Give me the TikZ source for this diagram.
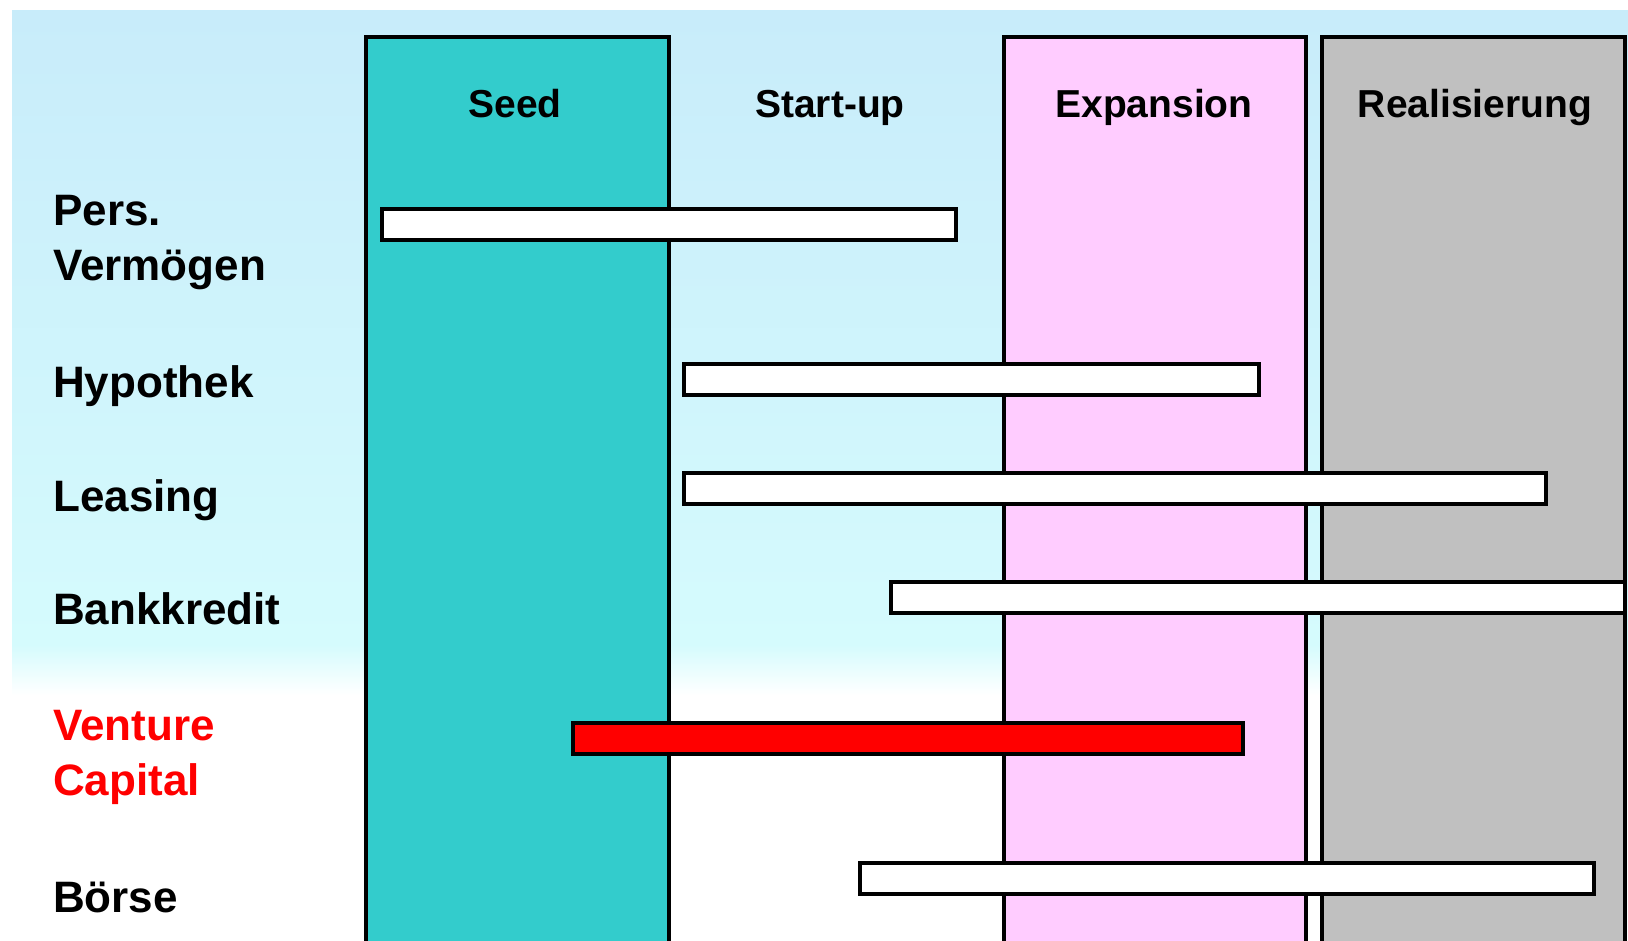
\documentclass[tikz,border=0pt]{standalone}
\usepackage{fontspec}
\setmainfont{Liberation Sans}
\definecolor{seedc}{HTML}{33CCCC}
\definecolor{expc}{HTML}{FFCCFF}
\definecolor{realc}{HTML}{C0C0C0}
\definecolor{bgtop}{HTML}{C8ECFA}
\definecolor{bgmid}{HTML}{D5FBFD}
\definecolor{vcred}{HTML}{FF0000}
\begin{document}
\begin{tikzpicture}[x=1pt,y=-1pt,
  col/.style={draw=black,line width=3.4pt,anchor=north west,minimum height=930pt,inner sep=0pt,outer sep=0pt},
  bar/.style={draw=black,line width=3.6pt,fill=white,anchor=north west,minimum height=31pt,inner sep=0pt,outer sep=0pt},
  head/.style={font=\fontsize{39}{44}\selectfont\bfseries,anchor=base,inner sep=0pt},
  lab/.style={font=\fontsize{44}{54.5}\selectfont\bfseries,anchor=base west,align=left,inner sep=0pt}]
\useasboundingbox (0,0) rectangle (1628,940);
\clip (0,0) rectangle (1628,940);
\fill[white] (0,0) rectangle (1628,940);
\shade[top color=bgtop,bottom color=bgmid] (12,10) rectangle (1628,645);
\shade[top color=bgmid,bottom color=white] (12,645) rectangle (1628,695);
% phase columns
\node[col,fill=seedc,minimum width=303pt] (seed) at (366,37) {};
\node[col,fill=expc,minimum width=302pt] (exp) at (1004,37) {};
\node[col,fill=realc,minimum width=303pt] (real) at (1322,37) {};
% headers
\node[head] (hseed) at (515,117) {Seed};
\node[head] (hstart) at (830,117) {Start-up};
\node[head] (hexp) at (1154,117) {Expansion};
\node[head] (hreal) at (1475,117) {Realisierung};
% row labels (anchor = baseline of last line)
\node[lab] (lpv) at (53,280) {Pers.\\Vermögen};
\node[lab] (lhyp) at (53,397) {Hypothek};
\node[lab] (lleas) at (53,511) {Leasing};
\node[lab] (lbank) at (53,624) {Bankkredit};
\node[lab,text=vcred] (lvc) at (53,795) {Venture\\Capital};
\node[lab] (lboerse) at (53,912) {Börse};
% bars
\node[bar,minimum width=574pt] (pv) at (382,209) {};
\node[bar,minimum width=575pt] (hyp) at (684,364) {};
\node[bar,minimum width=862pt] (leas) at (684,473) {};
\node[bar,minimum width=734pt] (bank) at (891,582) {};
\node[bar,fill=vcred,minimum width=670pt] (vc) at (573,723) {};
\node[bar,minimum width=734pt] (boerse) at (860,863) {};
\end{tikzpicture}
\end{document}
